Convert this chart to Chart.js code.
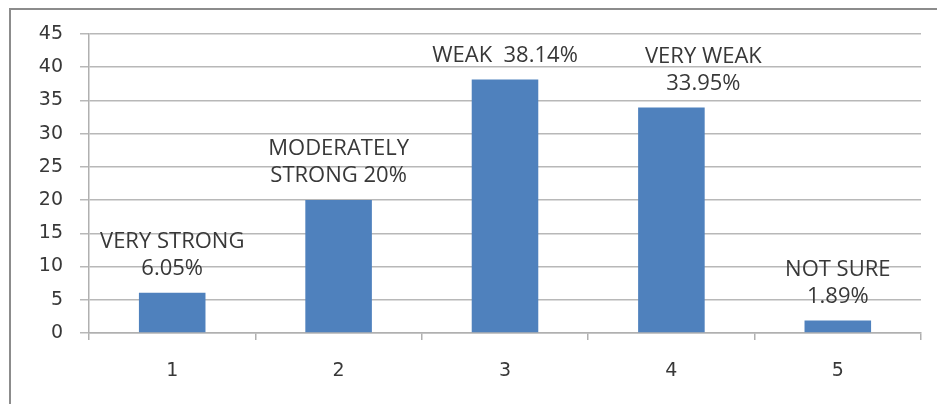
<!DOCTYPE html>
<html>

<head>
    <meta charset="utf-8" />
    <title>Response Distribution</title>
    <style>
        body {
            margin: 0;
            background: #fff;
            overflow: hidden;
        }

        .frame {
            position: absolute;
            left: 9px;
            top: 8px;
            width: 1000px;
            height: 500px;
            border-left: 2px solid #8c8c8c;
            border-top: 2px solid #8c8c8c;
        }

        #chart {
            position: absolute;
            left: 0;
            top: 0;
        }
    </style>
    <script src="https://cdn.jsdelivr.net/npm/chart.js"></script>
</head>

<body>
    <div class="frame"></div>
    <canvas id="chart" width="937" height="404"></canvas>

    <script>
        const categories = ['1', '2', '3', '4', '5'];
        const values = [6.05, 20, 38.14, 33.95, 1.89];
        const labelLines = [
            ['VERY STRONG', '6.05%'],
            ['MODERATELY', 'STRONG 20%'],
            ['WEAK  38.14%'],
            ['VERY WEAK', '33.95%'],
            ['NOT SURE', '1.89%']
        ];

        // text blocks over each bar, bottom line sits a fixed gap above the bar top
        const barLabels = {
            id: 'barLabels',
            afterDatasetsDraw(chart, args, opts) {
                const ctx = chart.ctx;
                const meta = chart.getDatasetMeta(0);
                ctx.save();
                ctx.font = opts.font;
                ctx.fillStyle = opts.color;
                ctx.textAlign = 'center';
                ctx.textBaseline = 'middle';
                meta.data.forEach((bar, i) => {
                    const lines = labelLines[i];
                    const x = bar.x + (opts.shift[i] || 0);
                    lines.forEach((txt, j) => {
                        const y = bar.y - opts.gap - (lines.length - 1 - j) * opts.lineHeight;
                        ctx.fillText(txt, x, y);
                    });
                });
                ctx.restore();
            }
        };

        new Chart(document.getElementById('chart').getContext('2d'), {
            type: 'bar',
            data: {
                labels: categories,
                datasets: [{
                    data: values,
                    backgroundColor: '#4f81bd',
                    borderWidth: 0,
                    barPercentage: 0.4,
                    categoryPercentage: 1
                }]
            },
            options: {
                responsive: false,
                animation: false,
                devicePixelRatio: 1,
                layout: { padding: { left: 0, right: 16, top: 34, bottom: 0 } },
                scales: {
                    x: {
                        afterFit: s => { s.height = 71; },
                        grid: {
                            offset: true,
                            drawOnChartArea: false,
                            drawTicks: true,
                            tickLength: 7,
                            color: '#b0b0b0',
                            lineWidth: 1.5
                        },
                        border: { color: '#b0b0b0', width: 1.5 },
                        ticks: {
                            padding: 20,
                            color: '#383838',
                            font: { family: 'DejaVu Sans', size: 19 }
                        }
                    },
                    y: {
                        min: 0,
                        max: 45,
                        afterFit: s => { s.width = 89; },
                        grid: {
                            color: '#b8b8b8',
                            lineWidth: 1.5,
                            tickLength: 9
                        },
                        border: { color: '#b0b0b0', width: 1.5 },
                        ticks: {
                            stepSize: 5,
                            padding: 17,
                            color: '#383838',
                            font: { family: 'DejaVu Sans', size: 19 }
                        }
                    }
                },
                plugins: {
                    legend: { display: false },
                    tooltip: { enabled: false },
                    barLabels: {
                        font: '22px "Open Sans"',
                        color: '#383838',
                        gap: 24,
                        lineHeight: 27,
                        shift: { 3: 32 }
                    }
                }
            },
            plugins: [barLabels]
        });
    </script>
</body>

</html>
